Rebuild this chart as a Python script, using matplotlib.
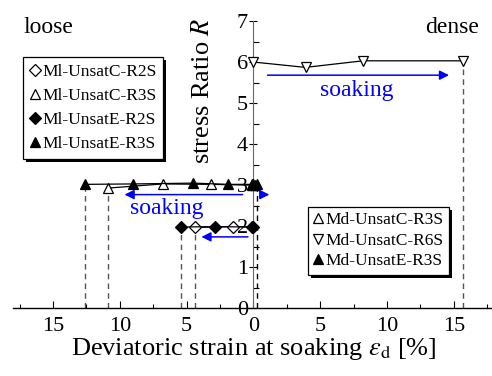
import numpy as np
import matplotlib
matplotlib.use("Agg")
import matplotlib.pyplot as plt
from matplotlib.lines import Line2D
from matplotlib.patches import Rectangle
from matplotlib.ticker import MultipleLocator, FuncFormatter

plt.rcParams['font.family'] = 'serif'
plt.rcParams['font.serif'] = ['Liberation Serif', 'Times New Roman', 'DejaVu Serif']
plt.rcParams['mathtext.fontset'] = 'stix'

# loose specimens (strain measured to the left)
ml_c_r2s_eps = [4.4, 1.5, 0.1]
ml_c_r2s_R = [1.97, 1.99, 1.98]
ml_e_r2s_eps = [5.45, 2.9, 0.05]
ml_e_r2s_R = [1.98, 1.99, 1.98]
ml_c_r3s_eps = [10.85, 6.8, 3.15, 0.1]
ml_c_r3s_R = [2.93, 3.03, 3.02, 3.0]
ml_e_r3s_eps = [12.6, 9.0, 4.5, 1.9, 0.1]
ml_e_r3s_R = [3.02, 3.03, 3.05, 3.02, 3.02]

# dense specimens (strain measured to the right)
md_c_r3s_eps = [0.0, 0.15]
md_c_r3s_R = [3.0, 3.0]
md_c_r6s_eps = [0.0, 3.9, 8.2, 15.65]
md_c_r6s_R = [6.0, 5.87, 6.03, 6.03]
md_e_r3s_eps = [0.0, 0.25]
md_e_r3s_R = [3.02, 3.02]

fig = plt.figure(figsize=(4.92, 3.76), dpi=100)
ax = fig.add_axes([12.9 / 492, 1 - 308.3 / 376, 481 / 492, 287.3 / 376])

ms = 7.5
dash = (0, (4, 3))


def series(eps, R, side, marker, filled, dashcol=None, size=ms):
    x = side * np.asarray(eps)
    if dashcol is not None:
        # drop line from the final strain down to the axis
        i = np.argmax(np.abs(x))
        ax.plot([x[i], x[i]], [0, R[i]], ls=dash, color=dashcol, lw=1.0, zorder=1)
    ax.plot(x, R, color='black', lw=0.9, marker=marker, ms=size,
            mfc='black' if filled else 'white', mec='black', mew=0.9, zorder=3)


series(ml_c_r3s_eps, ml_c_r3s_R, -1, '^', False, '#555555')
series(ml_e_r3s_eps, ml_e_r3s_R, -1, '^', True, '#555555')
series(ml_c_r2s_eps, ml_c_r2s_R, -1, 'D', False, '#555555', size=6.3)
series(ml_e_r2s_eps, ml_e_r2s_R, -1, 'D', True, '#555555', size=6.3)
series(md_c_r6s_eps, md_c_r6s_R, 1, 'v', False, '#555555')
series(md_c_r3s_eps, md_c_r3s_R, 1, '^', False)
series(md_e_r3s_eps, md_e_r3s_R, 1, '^', True, 'black')

# soaking arrows
arr = dict(arrowstyle='-|>', color='blue', lw=1.1, mutation_scale=14)
ax.annotate('', xy=(14.85, 5.68), xytext=(0.85, 5.68), arrowprops=arr)
ax.annotate('', xy=(-9.85, 2.77), xytext=(-0.6, 2.77), arrowprops=arr)
ax.annotate('', xy=(1.4, 2.77), xytext=(0.35, 2.77), arrowprops=arr)
ax.annotate('', xy=(-4.1, 1.74), xytext=(-0.2, 1.74), arrowprops=arr)
ax.text(7.7, 5.3, 'soaking', color='blue', fontsize=17, ha='center', va='center')
ax.text(-6.5, 2.42, 'soaking', color='blue', fontsize=17, ha='center', va='center')

ax.text(-17.2, 6.83, 'loose', fontsize=17, ha='left', va='center')
ax.text(16.9, 6.83, 'dense', fontsize=17, ha='right', va='center')
ax.text(-3.77, 5.3, 'stress Ratio $R$', fontsize=19, rotation=90,
        ha='center', va='center')

ax.set_xlim(-18, 18)
ax.set_ylim(0, 7)
ax.spines['top'].set_visible(False)
ax.spines['right'].set_visible(False)
ax.spines['left'].set_position(('data', 0))
ax.spines['left'].set_color('#666666')
ax.spines['bottom'].set_linewidth(1.0)

ax.xaxis.set_major_locator(MultipleLocator(5))
ax.xaxis.set_minor_locator(MultipleLocator(2.5))
ax.xaxis.set_major_formatter(FuncFormatter(lambda v, p: f'{abs(v):g}'))
ax.yaxis.set_major_locator(MultipleLocator(1))
ax.yaxis.set_minor_locator(MultipleLocator(0.5))
ax.tick_params(axis='x', which='major', direction='in', length=5, width=0.8,
               labelsize=16, pad=6)
ax.tick_params(axis='x', which='minor', direction='in', length=3, width=0.8)
ax.tick_params(axis='y', which='major', direction='inout', length=6, width=0.8,
               labelsize=16, pad=1)
ax.tick_params(axis='y', which='minor', direction='in', length=4, width=0.8)
ax.set_xlabel(r'Deviatoric strain at soaking $\varepsilon_{\rm d}$ [%]',
              fontsize=19, labelpad=0)


def handle(marker, filled, size=ms):
    return Line2D([], [], ls='none', marker=marker, ms=size,
                  mfc='black' if filled else 'white', mec='black', mew=0.9)


legend_kw = dict(loc='upper left', bbox_transform=fig.transFigure, borderaxespad=0,
                 fontsize=12.5, handlelength=0.6, handletextpad=0.1,
                 fancybox=False, framealpha=1, edgecolor='black')

leg1 = ax.legend([handle('D', False, 6.3), handle('^', False), handle('D', True, 6.3),
                  handle('^', True)],
                 ['Ml-UnsatC-R2S', 'Ml-UnsatC-R3S', 'Ml-UnsatE-R2S', 'Ml-UnsatE-R3S'],
                 bbox_to_anchor=(23 / 492, 1 - 57 / 376), labelspacing=0.45,
                 borderpad=0.4, **legend_kw)
ax.add_artist(leg1)

leg2 = ax.legend([handle('^', False), handle('v', False), handle('^', True)],
                 ['Md-UnsatC-R3S', 'Md-UnsatC-R6S', 'Md-UnsatE-R3S'],
                 bbox_to_anchor=(308 / 492, 1 - 207 / 376), labelspacing=0.25,
                 borderpad=0.3, **legend_kw)

# solid black drop shadow behind each legend box
fig.canvas.draw()
for leg in (leg1, leg2):
    leg.get_frame().set_linewidth(0.9)
    bb = leg.get_window_extent().transformed(fig.transFigure.inverted())
    ax.add_patch(Rectangle((bb.x0 + 3 / 492, bb.y0 - 3 / 376), bb.width, bb.height,
                           transform=fig.transFigure, facecolor='black',
                           edgecolor='none', zorder=4.5, clip_on=False))

fig.savefig('out.png', dpi=100)
